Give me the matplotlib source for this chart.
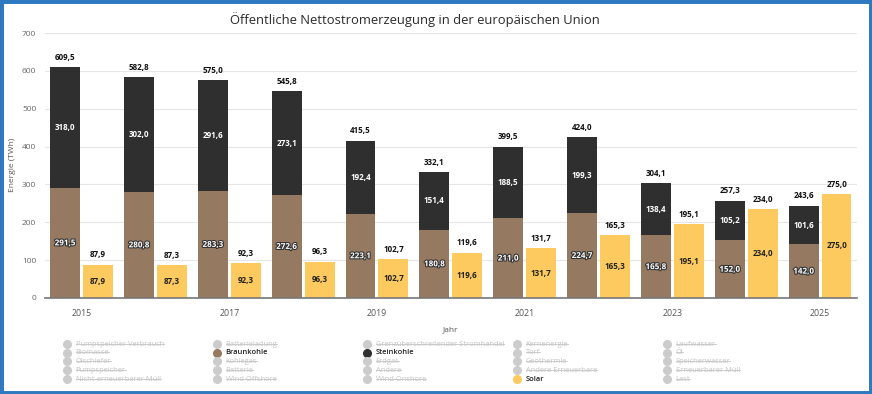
import matplotlib
matplotlib.use("Agg")
import matplotlib.pyplot as plt
import matplotlib.patheffects as pe
from matplotlib.lines import Line2D
from matplotlib.patches import Rectangle
import numpy as np

plt.rcParams['font.family'] = ['Open Sans', 'DejaVu Sans']

years = [2015, 2016, 2017, 2018, 2019, 2020, 2021, 2022, 2023, 2024, 2025]
braunkohle = [291.5, 280.8, 283.3, 272.6, 223.1, 180.8, 211.0, 224.7, 165.8, 152.0, 142.0]
steinkohle = [318.0, 302.0, 291.6, 273.1, 192.4, 151.4, 188.5, 199.3, 138.4, 105.2, 101.6]
totals = [609.5, 582.8, 575.0, 545.8, 415.5, 332.1, 399.5, 424.0, 304.1, 257.3, 243.6]
solar = [87.9, 87.3, 92.3, 96.3, 102.7, 119.6, 131.7, 165.3, 195.1, 234.0, 275.0]

legend_rows = [
    ["Pumpspeicher Verbrauch", "Batterieladung", "Grenzüberschreitender Stromhandel", "Kernenergie", "Laufwasser"],
    ["Biomasse", "Braunkohle", "Steinkohle", "Torf", "Öl"],
    ["Ölschiefer", "Kohlegas", "Erdgas", "Geothermie", "Speicherwasser"],
    ["Pumpspeicher", "Batterie", "Andere", "Andere Erneuerbare", "Erneuerbarer Müll"],
    ["Nicht-erneuerbarer Müll", "Wind Offshore", "Wind Onshore", "Solar", "Last"],
]

C_BRAUN = '#957a61'
C_STEIN = '#2f2f2f'
C_SOLAR = '#fdca60'
active = {"Braunkohle": C_BRAUN, "Steinkohle": C_STEIN, "Solar": C_SOLAR}

def fmt(v):
    return f"{v:.1f}".replace('.', ',')

W, H = 872, 394
fig = plt.figure(figsize=(W / 100, H / 100), dpi=100)
ax = fig.add_axes([44.6 / W, 1 - 298 / H, (857 - 44.6) / W, (298 - 33) / H])

x = np.arange(len(years))
bw = 0.405
off = 0.223
ax.bar(x - off, braunkohle, bw, color=C_BRAUN, zorder=3)
ax.bar(x - off, steinkohle, bw, bottom=braunkohle, color=C_STEIN, zorder=3)
ax.bar(x + off, solar, bw, color=C_SOLAR, zorder=3)

fs = 5.8
white_out = [pe.withStroke(linewidth=1.6, foreground='#333333')]
for i in range(len(years)):
    ax.text(x[i] - off, braunkohle[i] / 2, fmt(braunkohle[i]), ha='center', va='center',
            fontsize=fs, color='white', fontweight='bold', path_effects=white_out, zorder=5)
    ax.text(x[i] - off, braunkohle[i] + steinkohle[i] / 2, fmt(steinkohle[i]), ha='center', va='center',
            fontsize=fs, color='white', fontweight='bold', zorder=5)
    ax.text(x[i] - off, totals[i] + 14, fmt(totals[i]), ha='center', va='bottom',
            fontsize=fs, color='#111111', fontweight='bold', zorder=5)
    ax.text(x[i] + off, solar[i] / 2, fmt(solar[i]), ha='center', va='center',
            fontsize=fs, color='#222222', fontweight='bold', zorder=5)
    ax.text(x[i] + off, solar[i] + 14, fmt(solar[i]), ha='center', va='bottom',
            fontsize=fs, color='#111111', fontweight='bold', zorder=5)

ax.set_xlim(-0.5, len(years) - 0.5)
ax.set_ylim(0, 700)
ax.set_yticks(range(0, 701, 100))
ax.set_yticklabels([str(v) for v in range(0, 701, 100)], fontsize=6, color='#666666')
ax.set_xticks(x[::2])
ax.set_xticklabels([str(y) for y in years[::2]], fontsize=6.3, color='#555555')
ax.tick_params(axis='x', length=0, pad=8)
ax.tick_params(axis='y', length=0, pad=6)
ax.grid(axis='y', color='#e6e6e6', linewidth=0.8, zorder=0)
for s in ['top', 'right', 'left']:
    ax.spines[s].set_visible(False)
ax.spines['bottom'].set_color('#777777')
ax.spines['bottom'].set_linewidth(1.2)
ax.spines['bottom'].set_zorder(4)
ax.set_xlabel('Jahr', fontsize=6, color='#555555', labelpad=6)

fig.text(12 / W, 1 - 165 / H, 'Energie (TWh)', rotation=90, ha='center', va='center',
         fontsize=6, color='#555555')

fig.text(415 / W, 1 - 20 / H, 'Öffentliche Nettostromerzeugung in der europäischen Union',
         ha='center', va='center', fontsize=9.4, color='#2a2a2a', fontweight='medium')

# legend
col_dot = [67, 217, 367, 517, 667]
row_y = [344, 352.7, 361.3, 370, 379.3]
texts = []
for r, row in enumerate(legend_rows):
    for c, name in enumerate(row):
        yy = 1 - row_y[r] / H
        on = name in active
        dot_col = active.get(name, '#cccccc')
        fig.add_artist(Line2D([col_dot[c] / W], [yy], marker='o', markersize=5.5,
                              color=dot_col, linestyle='none'))
        t = fig.text((col_dot[c] + 8.5) / W, yy, name, ha='left', va='center',
                     fontsize=5.4, color='#222222' if on else '#c4c4c4',
                     fontweight='semibold' if on else 'normal')
        if not on:
            texts.append(t)

fig.canvas.draw()
renderer = fig.canvas.get_renderer()
for t in texts:
    bb = t.get_window_extent(renderer)
    ym = (bb.y0 + bb.y1) / 2 / H + 0.3 / H
    fig.add_artist(Line2D([bb.x0 / W, bb.x1 / W], [ym, ym], color='#c4c4c4', linewidth=0.6))

# frame border
fig.add_artist(Rectangle((0, 0), 1, 1, transform=fig.transFigure, fill=False,
                         edgecolor='#2e79c0', linewidth=5))

fig.savefig('out.png', dpi=100)
